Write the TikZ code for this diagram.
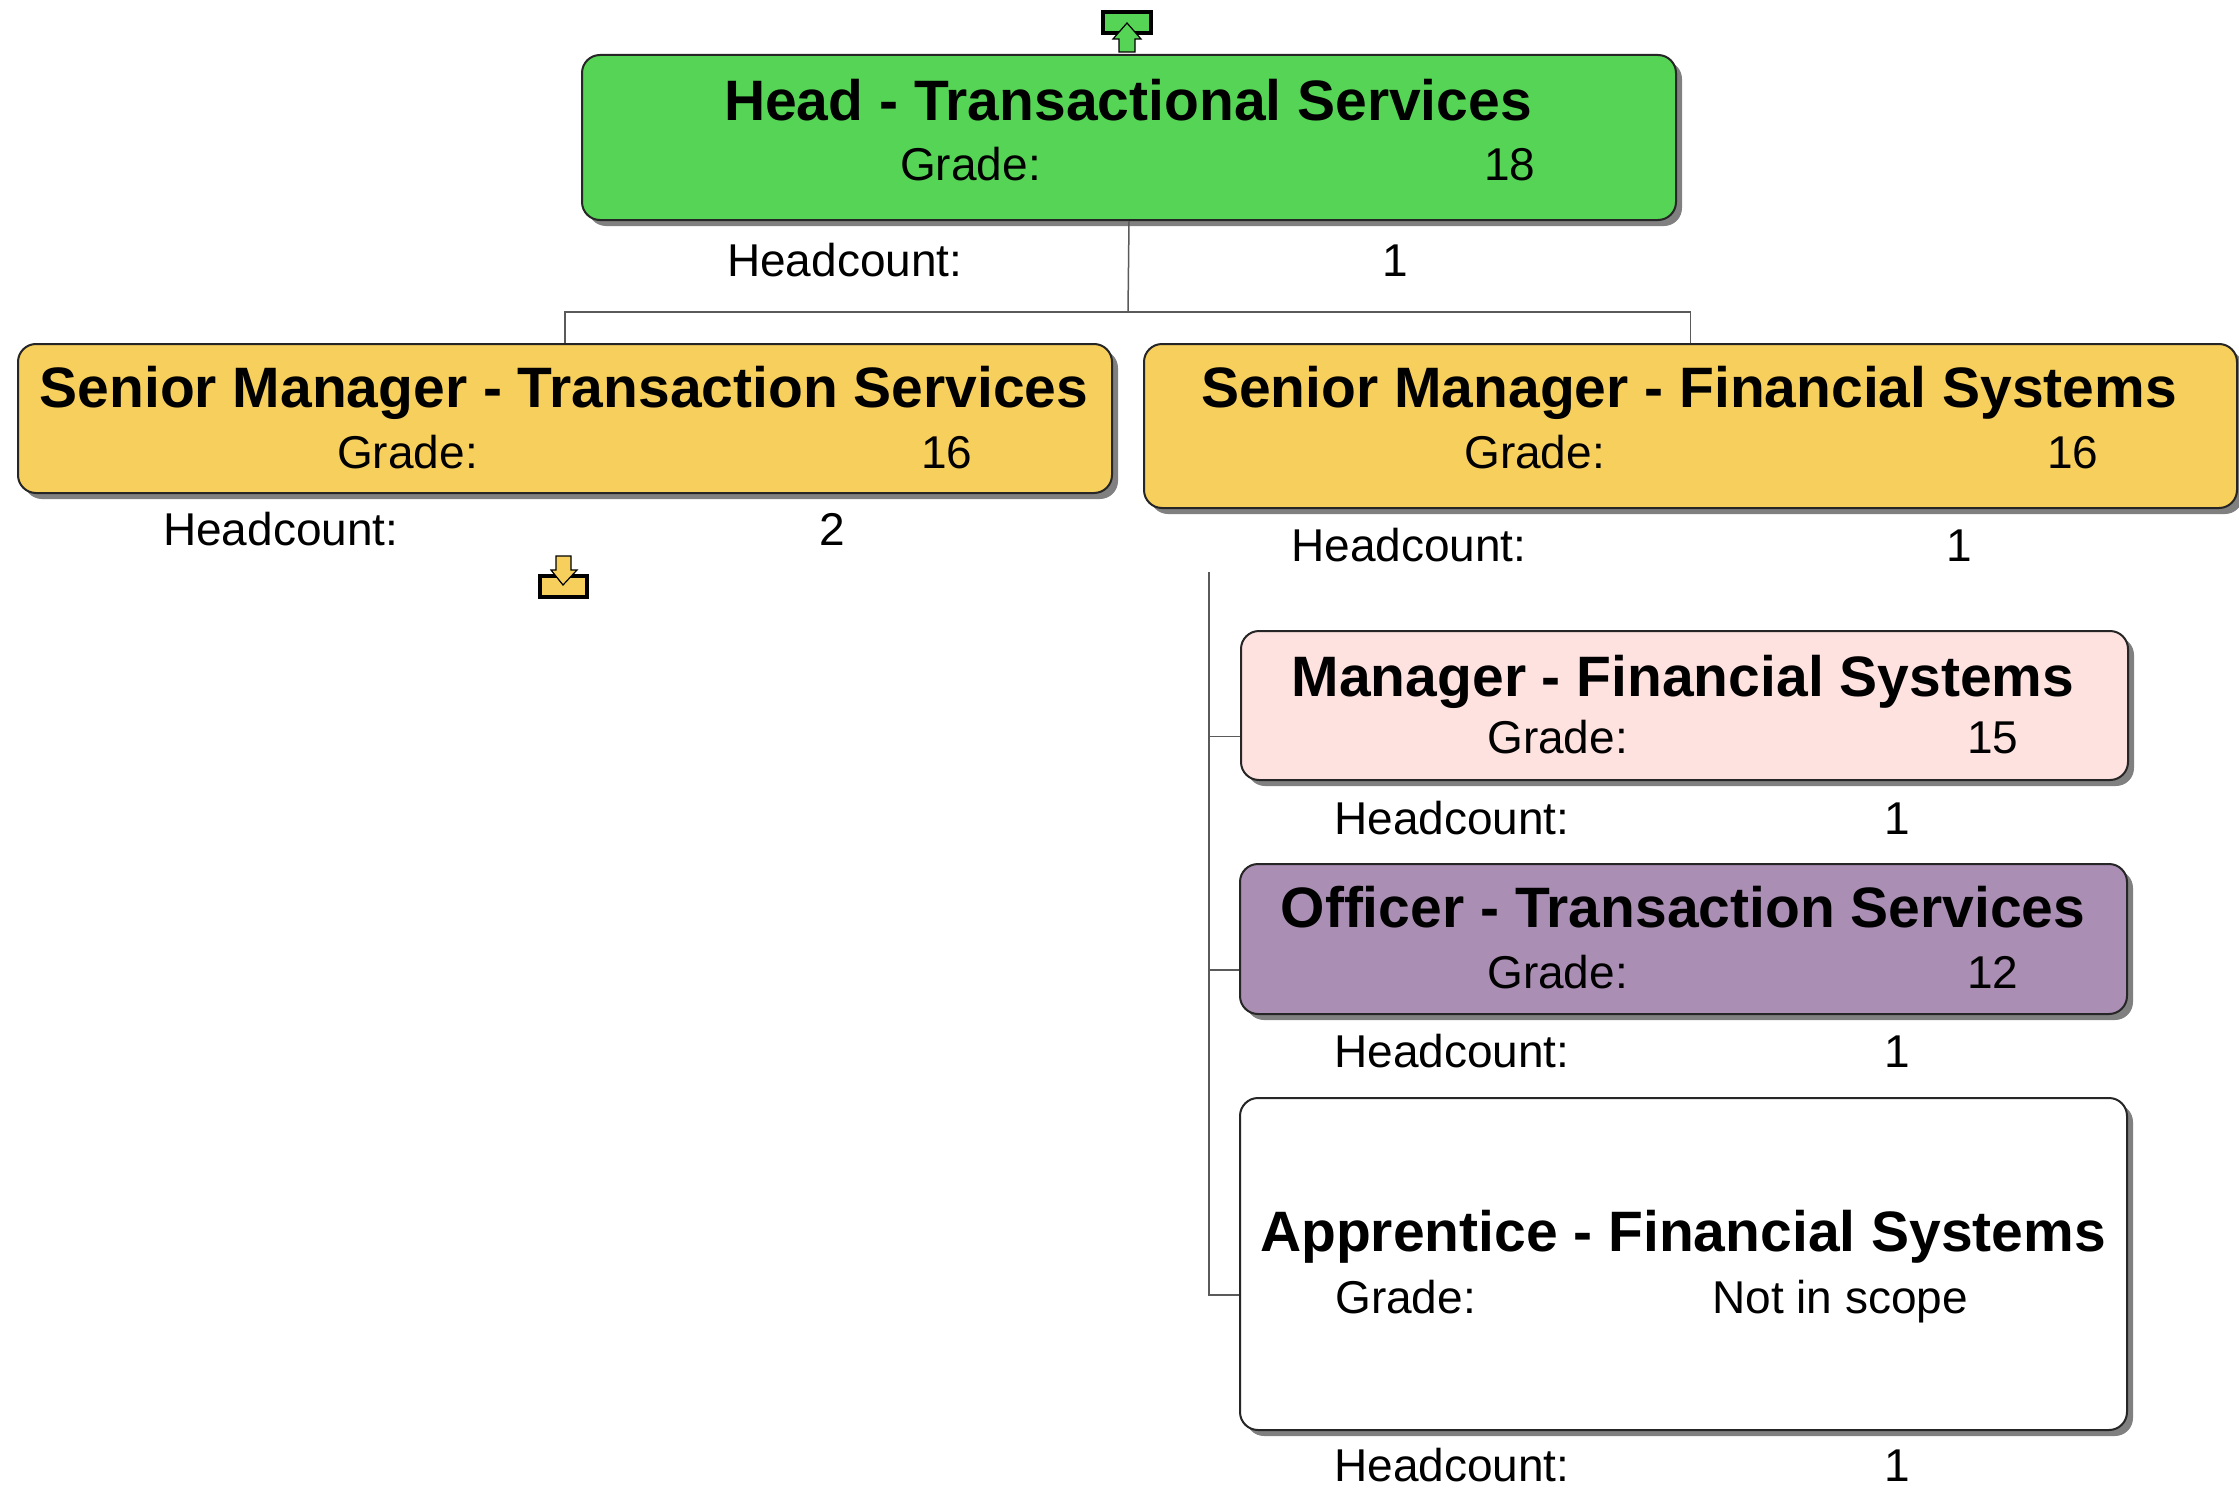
\documentclass[tikz,border=0pt]{standalone}
\usepackage{fontspec}
\setmainfont{Liberation Sans}
\usetikzlibrary{shadows}
\definecolor{headgreen}{RGB}{85,212,85}
\definecolor{smyellow}{RGB}{247,207,92}
\definecolor{mgrpink}{RGB}{254,226,224}
\definecolor{offpurple}{RGB}{170,142,180}
\definecolor{connc}{RGB}{90,90,90}
\tikzset{
  box/.style={draw=black!85, line width=2pt, rounded corners=18pt, inner sep=0pt, anchor=north west,
    drop shadow={shadow xshift=6pt, shadow yshift=-6pt, fill=black!50, opacity=1}},
  ttl/.style={font=\fontsize{57}{60}\selectfont\bfseries, anchor=base, inner sep=0pt},
  lbl/.style={font=\fontsize{46}{50}\selectfont, anchor=base west, inner sep=0pt},
  conn/.style={draw=connc, line width=1.5pt},
  icon/.style={draw=black, line width=4pt},
  arr/.style={draw=black, line width=1.2pt, line join=miter},
}
\begin{document}
\begin{tikzpicture}[x=1pt,y=-1pt]
\useasboundingbox (0,0) rectangle (2239,1488);
\fill[white] (0,0) rectangle (2239,1488);

% boxes
\node[box, fill=headgreen, minimum width=1094pt, minimum height=165pt] (head) at (581,54) {};
\node[box, fill=smyellow, minimum width=1094pt, minimum height=149pt] (smts) at (17,343) {};
\node[box, fill=smyellow, minimum width=1093pt, minimum height=164pt] (smfs) at (1143,343) {};
\node[box, fill=mgrpink, minimum width=887pt, minimum height=149pt] (mgr) at (1240,630) {};
\node[box, fill=offpurple, minimum width=887pt, minimum height=150pt] (off) at (1239,863) {};
\node[box, fill=white, minimum width=887pt, minimum height=332pt] (app) at (1239,1097) {};

% connectors
\coordinate (bus) at (1128,312);
\draw[conn] (head.south) -- (bus);
\draw[conn] (bus) -| (smts.north);
\draw[conn] (bus) -| (smfs.north);
\coordinate (trunk) at (1209,572);
\draw[conn] (trunk) |- ([yshift=-31pt]mgr.west);
\draw[conn] (trunk) |- ([yshift=-31pt]off.west);
\draw[conn] (trunk) |- ([yshift=-31pt]app.west);

% head texts
\node[ttl] (headT) at (1128,120) {Head - Transactional Services};
\node[lbl] (headG) at (900,180) {Grade:};
\node[lbl] (headGv) at (1484,180) {18};
\node[lbl] (headH) at (727,276) {Headcount:};
\node[lbl] (headHv) at (1382,276) {1};

% senior manager TS
\node[ttl] (smtsT) at (564,407) {Senior Manager - Transaction Services};
\node[lbl] (smtsG) at (337,468) {Grade:};
\node[lbl] (smtsGv) at (921,468) {16};
\node[lbl] (smtsH) at (163,545) {Headcount:};
\node[lbl] (smtsHv) at (819,545) {2};

% senior manager FS
\node[ttl] (smfsT) at (1689,407) {Senior Manager - Financial Systems};
\node[lbl] (smfsG) at (1464,468) {Grade:};
\node[lbl] (smfsGv) at (2047,468) {16};
\node[lbl] (smfsH) at (1291,561) {Headcount:};
\node[lbl] (smfsHv) at (1946,561) {1};

% manager
\node[ttl] (mgrT) at (1683,696) {Manager - Financial Systems};
\node[lbl] (mgrG) at (1487,753) {Grade:};
\node[lbl] (mgrGv) at (1967,753) {15};
\node[lbl] (mgrH) at (1334,834) {Headcount:};
\node[lbl] (mgrHv) at (1884,834) {1};

% officer
\node[ttl] (offT) at (1683,927) {Officer - Transaction Services};
\node[lbl] (offG) at (1487,988) {Grade:};
\node[lbl] (offGv) at (1967,988) {12};
\node[lbl] (offH) at (1334,1067) {Headcount:};
\node[lbl] (offHv) at (1884,1067) {1};

% apprentice
\node[ttl] (appT) at (1683,1251) {Apprentice - Financial Systems};
\node[lbl] (appG) at (1335,1313) {Grade:};
\node[lbl] (appGv) at (1712,1313) {Not in scope};
\node[lbl] (appH) at (1334,1481) {Headcount:};
\node[lbl] (appHv) at (1884,1481) {1};

% up icon
\draw[icon, fill=headgreen] (1103,12) rectangle (1151,33);
\draw[arr, fill=headgreen] (1127,23) -- (1141,39) -- (1135,39) -- (1135,52) -- (1119,52) -- (1119,39) -- (1113,39) -- cycle;

% down icon
\draw[icon, fill=smyellow] (540,576) rectangle (587,597);
\draw[arr, fill=smyellow] (556,556) -- (571,556) -- (571,570) -- (577,570) -- (563,585) -- (551,570) -- (556,570) -- cycle;
\end{tikzpicture}
\end{document}
